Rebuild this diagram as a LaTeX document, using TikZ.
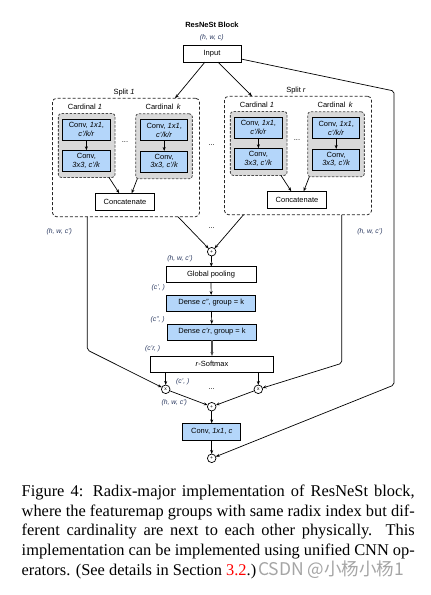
\documentclass[tikz,border=0pt]{standalone}
\usepackage{fontspec}
\setmainfont{Liberation Serif}
\setsansfont{Liberation Sans}
\newfontfamily\cjkfont{Noto Sans CJK SC}
\usetikzlibrary{arrows.meta,calc}
\definecolor{convblue}{RGB}{180,214,250}
\definecolor{cardgray}{RGB}{217,217,217}
\definecolor{labblue}{RGB}{40,55,95}
\definecolor{wmgray}{RGB}{165,165,165}

\newcommand\mysplit[4]{%
 \begin{scope}[shift={(#1,#2)}]
  \node[splitbox, minimum width=147pt, minimum height=118.5pt] (#3) at (126,157.5) {};
  \node[txt] (#3lab) at (124,92.3) {Split \textit{#4}};
  \node[cardbox, minimum width=56.7pt, minimum height=64pt] (#3c1) at (86.7,145.5) {};
  \node[cardbox, minimum width=56.7pt, minimum height=65pt] (#3ck) at (164,146.3) {};
  \node[txt] (#3c1lab) at (85,106.7) {Cardinal \textit{1}};
  \node[txt] (#3cklab) at (163.3,107) {Cardinal \,\textit{k}};
  \node[bluebox, minimum width=47.3pt, minimum height=21pt] (#3a1) at (86.4,129.5) {Conv, \textit{1x1},\\\textit{c'/k/r}};
  \node[bluebox, minimum width=47.3pt, minimum height=21pt] (#3b1) at (86.4,160.8) {Conv,\\\textit{3x3, c'/k}};
  \node[bluebox, minimum width=47.3pt, minimum height=21pt] (#3ak) at (164.2,130.3) {Conv, \textit{1x1},\\\textit{c'/k/r}};
  \node[bluebox, minimum width=47.3pt, minimum height=21pt] (#3bk) at (164.2,161.5) {Conv,\\\textit{3x3, c'/k}};
  \draw[arr] (#3a1) -- (#3b1);
  \draw[arr] (#3ak) -- (#3bk);
  \node[dots] (#3dots) at (125,142) {...};
  \node[box, minimum width=58.3pt, minimum height=17.4pt] (#3cat) at (125,202) {Concatenate};
  \draw[arr] ([xshift=22.3pt]#3c1.south) -- ([xshift=-5.7pt]#3cat.north);
  \draw[arr] ([xshift=-26.7pt]#3ck.south) -- ([xshift=6.7pt]#3cat.north);
 \end{scope}}

\begin{document}
\begin{tikzpicture}[x=1pt,y=-1pt,
 every node/.style={inner sep=0pt, outer sep=0pt},
 txt/.style={font=\sffamily\fontsize{7.5}{8.6}\selectfont},
 box/.style={txt, draw, line width=0.8pt, rectangle, align=center},
 bluebox/.style={box, fill=convblue},
 cardbox/.style={draw=black!70, fill=cardgray, rounded corners=3pt, line width=0.8pt, dash pattern=on 2.5pt off 1.5pt},
 splitbox/.style={draw=black!85, line width=0.8pt, dash pattern=on 3pt off 2pt, rounded corners=4pt},
 lab/.style={font=\sffamily\itshape\fontsize{6.8}{8}\selectfont, text=labblue},
 op/.style={circle, draw, line width=0.7pt, minimum size=8.6pt, font=\sffamily\fontsize{5}{5}\selectfont},
 arr/.style={-{Stealth[length=4pt,width=3pt]}, line width=0.7pt},
 ln/.style={line width=0.7pt, rounded corners=2pt},
 dots/.style={font=\sffamily\fontsize{7.5}{8}\selectfont}
]
\fill[white] (0,0) rectangle (431,595);
\useasboundingbox (0,0) rectangle (431,595);

\node[font=\sffamily\bfseries\fontsize{7.5}{9}\selectfont] (title) at (212,25) {ResNeSt Block};
\node[lab] (inlab) at (211.7,38) {(h, w, c)};
\node[box, minimum width=58pt, minimum height=17pt] (in) at (212,53.5) {Input};

\mysplit{0}{0}{sa}{1}
\mysplit{172}{-2}{sb}{r}

\node[dots] (d0) at (211.7,145.5) {...};

\draw[arr] ([xshift=-7pt]in.south) -- ([xshift=49pt]sa.north);
\draw[arr] ([xshift=6pt]in.south) -- ([xshift=-46pt]sb.north);

% merge
\node[op] (p1) at (211.7,251.7) {+};
\draw[arr] ([xshift=52pt]sa.south) -- (p1);
\draw[arr] ([xshift=-54.5pt]sb.south) -- (p1);
\node[dots] (d1) at (211.7,228.5) {...};
\node[lab] (lab1) at (59.3,231.7) {(h, w, c')};
\node[lab] (lab2) at (370,231.7) {(h, w, c')};

\node[lab] (lab3) at (180,259) {(h, w, c')};
\node[box, minimum width=90pt, minimum height=15.6pt] (gp) at (211,274.5) {Global pooling};
\node[lab] (lab4) at (158.3,287.3) {(c', )};
\node[bluebox, minimum width=89pt, minimum height=16pt] (dn1) at (211.2,303) {Dense \textit{c''}, group = k};
\node[lab] (lab5) at (157.7,320) {(c'', )};
\node[bluebox, minimum width=89.4pt, minimum height=16pt] (dn2) at (212,332) {Dense \textit{c'r}, group = k};
\node[lab] (lab6) at (152.7,348.3) {(c'r, )};
\node[box, minimum width=122.6pt, minimum height=16.3pt] (sm) at (212,364.2) {\textit{r}-Softmax};

\node[op] (xa) at (165.7,389.3) {x};
\node[op] (xb) at (258.3,389.3) {x};
\node[lab] (lab7) at (182.7,381.7) {(c', )};
\node[dots] (d2) at (211.7,389) {...};
\node[lab] (lab8) at (174.3,402.7) {(h, w, c')};
\node[op] (p2) at (211.7,406.7) {+};
\node[bluebox, minimum width=58pt, minimum height=16.7pt] (cv) at (211.7,431.7) {Conv, \textit{1x1}, \textit{c}};
\node[op] (p3) at (211.7,458.3) {+};

\draw[arr] (p1) -- (gp);
\draw[arr] (gp) -- (dn1);
\draw[arr] (dn1) -- (dn2);
\draw[arr, line width=1.3pt, draw=black!70] (dn2) -- (sm);
\draw[arr] (xa |- sm.south) -- (xa);
\draw[arr] (xb |- sm.south) -- (xb);
\draw[arr] (xa) -- (p2);
\draw[arr] (xb) -- (p2);
\draw[arr] (p2) -- (cv);
\draw[arr] (cv) -- (p3);

% skip connections
\draw[ln, arr] ([xshift=-38.7pt]sa.south) -- (87.3,350) -- (xa);
\draw[ln, arr] ([xshift=43.7pt]sb.south) -- (341.7,363.3) -- (xb);
\draw[ln, arr] ([yshift=-5.5pt]in.east) -- (394,91) -- (394,385) -- (p3);

% caption
\node[anchor=base west, text width=393pt, align=justify, font=\fontsize{16.4}{19.6}\selectfont] (cap) at (21.7,496.7) {Figure 4: Radix-major implementation of ResNeSt block,\linebreak where the featuremap groups with same radix index but dif-\linebreak ferent cardinality are next to each other physically. This\linebreak implementation can be implemented using unified CNN op-\linebreak erators. (See details in Section \textcolor{red}{3.2}.)};
\node[anchor=base west, font=\cjkfont\fontsize{17.5}{19}\selectfont, text=wmgray] (wm) at (258,575.3) {CSDN @小杨小杨1};
\end{tikzpicture}
\end{document}
